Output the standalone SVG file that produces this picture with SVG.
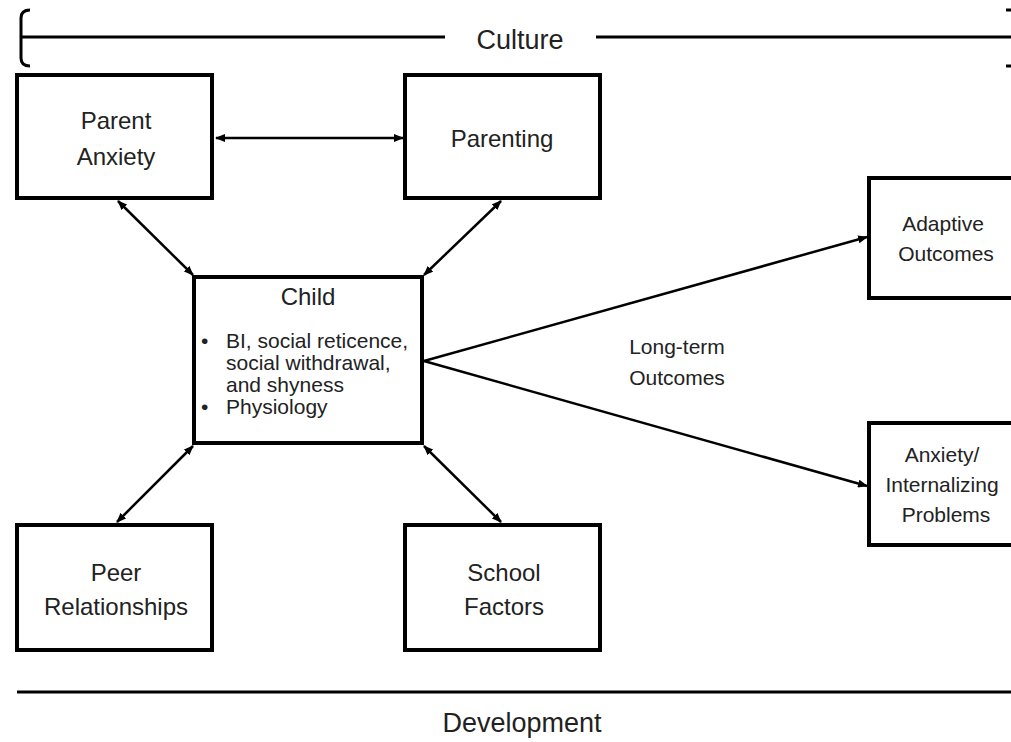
<svg xmlns="http://www.w3.org/2000/svg" width="1011" height="742" viewBox="0 0 1011 742">
  <style>
    .box { fill: #fff; stroke: #000; stroke-width: 4; }
    .lbl { font-family: "Liberation Sans", Arial, sans-serif; fill: #222; text-anchor: middle; }
    .big { font-size: 27px; }
    .mid { font-size: 24px; }
    .sm { font-size: 21px; }
    .line { fill: none; stroke: #000; stroke-width: 3; }
    .conn { fill: none; stroke: #000; stroke-width: 2.5; marker-end: url(#ah); }
    .both { marker-start: url(#ahs); }
  </style>
  <defs>
    <marker id="ah" markerWidth="10" markerHeight="8" refX="9" refY="4" orient="auto" markerUnits="userSpaceOnUse">
      <path d="M0,0 L10,4 L0,8 Z" fill="#000"/>
    </marker>
    <marker id="ahs" markerWidth="10" markerHeight="8" refX="1" refY="4" orient="auto" markerUnits="userSpaceOnUse">
      <path d="M10,0 L0,4 L10,8 Z" fill="#000"/>
    </marker>
  </defs>
  <rect width="1011" height="742" fill="#fff"/>

  <!-- culture band -->
  <g id="culture">
    <path class="line" d="M30,10 Q21,10 21,18 L21,58 Q21,66 30,66"/>
    <line class="line" x1="21" y1="37" x2="445" y2="37"/>
    <line class="line" x1="596" y1="37" x2="1011" y2="37"/>
    <line class="line" x1="1006" y1="10" x2="1011" y2="10"/>
    <line class="line" x1="1006" y1="66" x2="1011" y2="66"/>
    <text class="lbl big" x="520" y="49">Culture</text>
  </g>

  <!-- development band -->
  <g id="development">
    <line class="line" x1="17" y1="692" x2="1011" y2="692"/>
    <text class="lbl big" x="522" y="732">Development</text>
  </g>

  <g id="connectors">
    <line class="conn both" x1="216" y1="138" x2="403" y2="138"/>
    <line class="conn both" x1="118" y1="201" x2="193" y2="275"/>
    <line class="conn both" x1="501" y1="201" x2="424" y2="275"/>
    <line class="conn both" x1="193" y1="446" x2="117" y2="522"/>
    <line class="conn both" x1="424" y1="446" x2="501" y2="522"/>
    <line class="conn" x1="424" y1="361" x2="867" y2="237"/>
    <line class="conn" x1="424" y1="361" x2="867" y2="486"/>
  </g>

  <g id="parent-anxiety">
    <rect class="box" x="17" y="75" width="195" height="123"/>
    <text class="lbl mid" x="116" y="129">Parent</text>
    <text class="lbl mid" x="116" y="165">Anxiety</text>
  </g>

  <g id="parenting">
    <rect class="box" x="405" y="75" width="195" height="123"/>
    <text class="lbl mid" x="502" y="147">Parenting</text>
  </g>

  <g id="child">
    <rect class="box" x="194" y="277" width="228" height="166"/>
    <text class="lbl mid" x="308" y="305">Child</text>
    <g class="lbl sm" style="text-anchor:start">
      <text x="201" y="348">•</text>
      <text x="226" y="348">BI, social reticence,</text>
      <text x="226" y="370">social withdrawal,</text>
      <text x="226" y="392">and shyness</text>
      <text x="201" y="414">•</text>
      <text x="226" y="414">Physiology</text>
    </g>
  </g>

  <g id="peer-relationships">
    <rect class="box" x="17" y="525" width="195" height="125"/>
    <text class="lbl mid" x="116" y="581">Peer</text>
    <text class="lbl mid" x="116" y="615">Relationships</text>
  </g>

  <g id="school-factors">
    <rect class="box" x="405" y="525" width="195" height="125"/>
    <text class="lbl mid" x="504" y="581">School</text>
    <text class="lbl mid" x="504" y="615">Factors</text>
  </g>

  <g id="long-term">
    <text class="lbl sm" x="677" y="354">Long-term</text>
    <text class="lbl sm" x="677" y="385">Outcomes</text>
  </g>

  <g id="adaptive-outcomes">
    <rect class="box" x="869" y="178" width="150" height="120"/>
    <text class="lbl sm" x="943" y="231">Adaptive</text>
    <text class="lbl sm" x="946" y="261">Outcomes</text>
  </g>

  <g id="anxiety-internalizing">
    <rect class="box" x="869" y="423" width="150" height="122"/>
    <text class="lbl sm" x="942" y="462">Anxiety/</text>
    <text class="lbl sm" x="942" y="492">Internalizing</text>
    <text class="lbl sm" x="946" y="522">Problems</text>
  </g>
</svg>
